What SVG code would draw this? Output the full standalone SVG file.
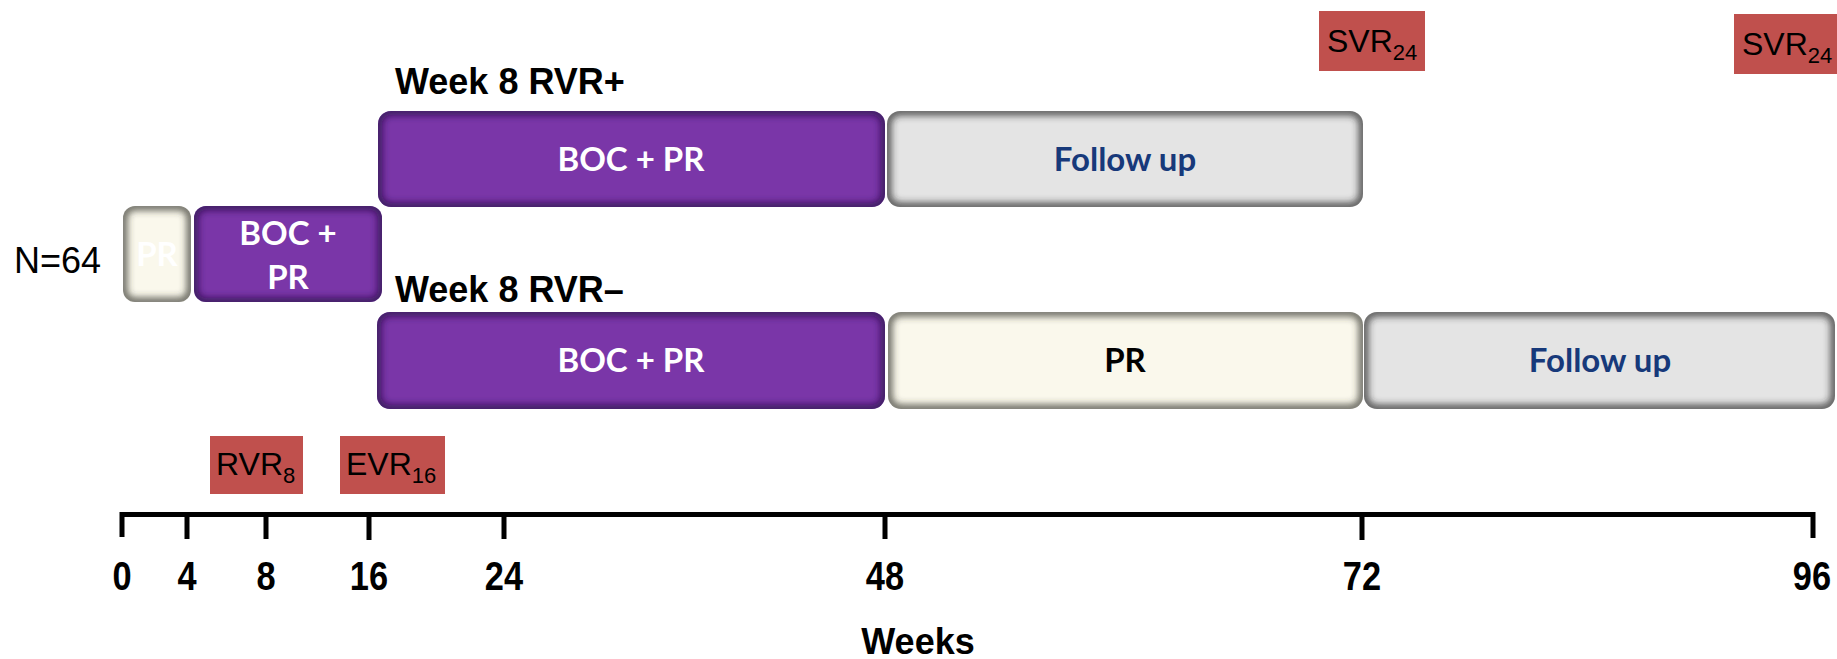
<svg xmlns="http://www.w3.org/2000/svg" width="1837" height="659" viewBox="0 0 1837 659">
<defs>
<filter id="soft" x="-20%" y="-40%" width="140%" height="180%"><feGaussianBlur stdDeviation="3.5"/></filter>
<clipPath id="c1"><rect x="123" y="206" width="68" height="96" rx="12"/></clipPath>
<clipPath id="c2"><rect x="194" y="206" width="188" height="96" rx="12"/></clipPath>
<clipPath id="c3"><rect x="378" y="111" width="507" height="96" rx="13"/></clipPath>
<clipPath id="c4"><rect x="887" y="111" width="476" height="96" rx="13"/></clipPath>
<clipPath id="c5"><rect x="377" y="312" width="508" height="97" rx="13"/></clipPath>
<clipPath id="c6"><rect x="888" y="312" width="475" height="97" rx="13"/></clipPath>
<clipPath id="c7"><rect x="1364" y="312" width="471" height="97" rx="13"/></clipPath>
</defs>
<style>
.purple{fill:#7a36a8}
.cream{fill:#faf8ec}
.gray{fill:#e4e4e4}
.shP{fill:none;stroke:#2a0a45;stroke-opacity:0.75;stroke-width:9;filter:url(#soft)}
.shC{fill:none;stroke:#3a3a30;stroke-opacity:0.75;stroke-width:9;filter:url(#soft)}
.shG{fill:none;stroke:#2a2a2a;stroke-opacity:0.75;stroke-width:9;filter:url(#soft)}
.red{fill:#c0504d}
.bt{font-family:Lato,"Open Sans",sans-serif;font-weight:bold;font-size:33px;text-anchor:middle}
.w{fill:#fff}
.blue{fill:#17397a}
.k{fill:#000}
.lab{font-family:"Liberation Sans",Arial,sans-serif;font-weight:bold;font-size:36px;fill:#000}
.rt{font-family:"Liberation Sans",Arial,sans-serif;font-size:32px;fill:#000}
.sub{font-size:22px}
.ax{stroke:#000;stroke-width:5;fill:none}
.num{font-family:"Liberation Sans",Arial,sans-serif;font-weight:bold;font-size:40px;fill:#000;text-anchor:middle}
</style>
<rect width="1837" height="659" fill="#fff"/>

<g id="n64"><text x="14" y="273" font-family="'Liberation Sans',Arial,sans-serif" font-size="36" fill="#000">N=64</text></g>

<g id="pr-lead"><rect class="cream" x="123" y="206" width="68" height="96" rx="12"/><rect class="shC" clip-path="url(#c1)" x="123" y="206" width="68" height="96" rx="12"/><text class="bt w" x="157" y="266">PR</text></g>
<g id="boc-lead"><rect class="purple" x="194" y="206" width="188" height="96" rx="12"/><rect class="shP" clip-path="url(#c2)" x="194" y="206" width="188" height="96" rx="12"/><text class="bt w" x="288" y="245">BOC +</text><text class="bt w" x="288" y="289">PR</text></g>

<g id="label-rvr-plus"><text class="lab" x="395" y="94">Week 8 RVR+</text></g>
<g id="boc-plus"><rect class="purple" x="378" y="111" width="507" height="96" rx="13"/><rect class="shP" clip-path="url(#c3)" x="378" y="111" width="507" height="96" rx="13"/><text class="bt w" x="631" y="171">BOC + PR</text></g>
<g id="follow-plus"><rect class="gray" x="887" y="111" width="476" height="96" rx="13"/><rect class="shG" clip-path="url(#c4)" x="887" y="111" width="476" height="96" rx="13"/><text class="bt blue" x="1125" y="171">Follow up</text></g>

<g id="label-rvr-minus"><text class="lab" x="395" y="302">Week 8 RVR–</text></g>
<g id="boc-minus"><rect class="purple" x="377" y="312" width="508" height="97" rx="13"/><rect class="shP" clip-path="url(#c5)" x="377" y="312" width="508" height="97" rx="13"/><text class="bt w" x="631" y="372">BOC + PR</text></g>
<g id="pr-minus"><rect class="cream" x="888" y="312" width="475" height="97" rx="13"/><rect class="shC" clip-path="url(#c6)" x="888" y="312" width="475" height="97" rx="13"/><text class="bt k" x="1125" y="372">PR</text></g>
<g id="follow-minus"><rect class="gray" x="1364" y="312" width="471" height="97" rx="13"/><rect class="shG" clip-path="url(#c7)" x="1364" y="312" width="471" height="97" rx="13"/><text class="bt blue" x="1600" y="372">Follow up</text></g>

<g id="svr1"><rect class="red" x="1319" y="11" width="106" height="60"/><text class="rt" x="1327" y="52">SVR<tspan class="sub" dy="8">24</tspan></text></g>
<g id="svr2"><rect class="red" x="1734" y="14" width="103" height="60"/><text class="rt" x="1742" y="55">SVR<tspan class="sub" dy="8">24</tspan></text></g>
<g id="rvr8"><rect class="red" x="210" y="436" width="93" height="58"/><text class="rt" x="216" y="475">RVR<tspan class="sub" dy="8">8</tspan></text></g>
<g id="evr16"><rect class="red" x="340" y="436" width="105" height="58"/><text class="rt" x="346" y="475">EVR<tspan class="sub" dy="8">16</tspan></text></g>

<g id="axis">
<path class="ax" d="M122 537 V514.5 H1813 V538 M187 514 V539 M266 514 V539 M369 514 V540 M504 514 V539 M885 514 V539 M1362 514 V540"/>
<text class="num" transform="translate(122 590) scale(0.86 1)">0</text>
<text class="num" transform="translate(187 590) scale(0.86 1)">4</text>
<text class="num" transform="translate(266 590) scale(0.86 1)">8</text>
<text class="num" transform="translate(369 590) scale(0.86 1)">16</text>
<text class="num" transform="translate(504 590) scale(0.86 1)">24</text>
<text class="num" transform="translate(885 590) scale(0.86 1)">48</text>
<text class="num" transform="translate(1362 590) scale(0.86 1)">72</text>
<text class="num" transform="translate(1812 590) scale(0.86 1)">96</text>
<text class="lab" x="918" y="654" text-anchor="middle">Weeks</text>
</g>
</svg>
